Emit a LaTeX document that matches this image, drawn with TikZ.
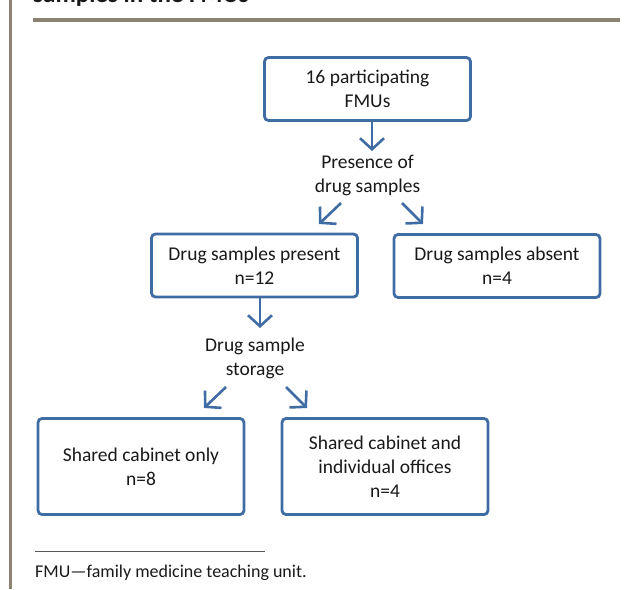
\documentclass[tikz,border=0pt]{standalone}
\usepackage{fontspec}
\setmainfont{Carlito}
\usetikzlibrary{arrows.meta}
\definecolor{boxblue}{RGB}{64,108,164}
\definecolor{taupe}{RGB}{140,130,114}
\definecolor{txt}{RGB}{25,25,25}
\begin{document}
\begin{tikzpicture}[x=1pt,y=-1pt,
  box/.style={draw=boxblue,line width=2.8pt,rounded corners=4pt,fill=white,
    minimum width=206pt,align=center,text=txt,inner sep=0pt,
    font=\fontsize{19.5}{24}\selectfont},
  smallbox/.style={box,minimum height=63pt},
  bigbox/.style={box,minimum height=96pt},
  lbl/.style={align=center,text=txt,inner sep=0pt,font=\fontsize{19.5}{24}\selectfont},
  arr/.style={draw=boxblue,line width=2.6pt,-{Straight Barb[length=11pt,width=24pt]}}
]
\useasboundingbox (0,0) rectangle (629,589);
\clip (0,0) rectangle (629,589);
% page decorations
\draw[taupe,line width=3pt] (10,0) -- (10,589);
\draw[taupe,line width=4.5pt] (33,20) -- (620,20);
\node[anchor=base west,inner sep=0pt,text=txt,font=\fontsize{25}{30}\selectfont\bfseries] (title) at (33,2) {samples in the FMUs};
% nodes
\node[smallbox] (top) at (367.5,89) {16 participating\\FMUs};
\node[lbl] (pres) at (367.5,175) {Presence of\\drug samples};
\node[smallbox] (present) at (254.5,265.5) {Drug samples present\\n=12};
\node[smallbox] (absent) at (497,266) {Drug samples absent\\n=4};
\node[lbl] (stor) at (255,358) {Drug sample\\storage};
\node[bigbox] (only) at (141,466.5) {Shared cabinet only\\n=8};
\node[bigbox] (and) at (385,466.5) {Shared cabinet and\\individual offices\\n=4};
% connectors
\draw[arr] (top.south -| 372,0) -- (372,151);
\coordinate (p1) at (341,203);
\coordinate (p2) at (402,203);
\draw[arr] (p1) -- (319,224);
\draw[arr] (p2) -- (423,224);
\draw[arr] (present.south -| 260,0) -- (260,328);
\coordinate (s1) at (226,387);
\coordinate (s2) at (286,387);
\draw[arr] (s1) -- (204,408);
\draw[arr] (s2) -- (307,408);
% footnote
\draw[black!65,line width=0.9pt] (35,551) -- (265,551);
\node[anchor=base west,inner sep=0pt,text=txt,font=\fontsize{18}{22}\selectfont] (foot) at (35,577) {FMU—family medicine teaching unit.};
\end{tikzpicture}
\end{document}
